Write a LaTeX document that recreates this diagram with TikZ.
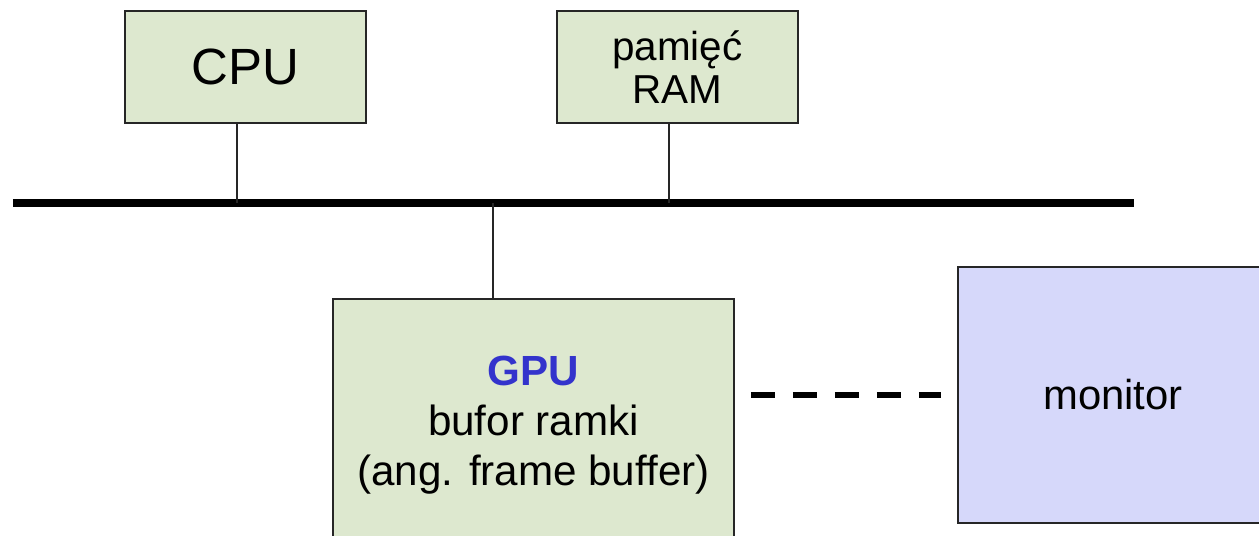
\documentclass[tikz,border=0pt]{standalone}
\usepackage{fontspec}
\setmainfont{Liberation Sans}
\usepackage{xcolor}
\usetikzlibrary{calc, positioning}

\definecolor{boxgreen}{RGB}{221,232,207}
\definecolor{boxblue}{RGB}{214,216,250}
\definecolor{gpublue}{RGB}{51,51,204}

\begin{document}
\begin{tikzpicture}[
		unit/.style = {draw = black!85, line width = 1.1pt, fill = boxgreen, align = center, inner sep = 0pt},
		screen/.style = {unit, fill = boxblue},
		tap/.style = {line width = 0.8pt, black!85},
		bus/.style = {line width = 4pt},
		video/.style = {line width = 3.4pt, dash pattern = on 0.48cm off 0.36cm}
	]
		\useasboundingbox (0,0) rectangle (25.18,-10.72);
		
		\def\busy{-4.06};
		
		\coordinate (bus left) at (0.26,\busy);
		\coordinate (bus right) at (22.68,\busy);
		
		\coordinate (cpu tap) at (4.74,\busy);
		\coordinate (ram tap) at (13.38,\busy);
		\coordinate (gpu tap) at (9.86,\busy);
		
		\node [unit, minimum width = 4.82cm, minimum height = 2.24cm, font = \fontsize{29}{35}\selectfont] (cpu) at (4.91,-1.34) {CPU};
		
		\node [unit, minimum width = 4.82cm, minimum height = 2.24cm, font = \fontsize{23}{25.5}\selectfont] (ram) at (13.55,-1.34) {\raisebox{-0.1cm}{pamięć}\\\raisebox{-0.06cm}{RAM}};
		
		\node [unit, minimum width = 8.02cm, minimum height = 5.04cm, font = \fontsize{24}{28.6}\selectfont] (gpu) at (10.67,-8.5) {\textcolor{gpublue}{\textbf{GPU}}\\bufor ramki\\(ang. frame buffer)};
		
		\node [screen, minimum width = 6.2cm, minimum height = 5.12cm, font = \fontsize{23.8}{28}\selectfont] (monitor) at (22.26,-7.9) {monitor};
		
		\draw [bus] (bus left) -- (bus right);
		
		\draw [tap] (cpu.south -| cpu tap) -- (cpu tap);
		\draw [tap] (ram.south -| ram tap) -- (ram tap);
		\draw [tap] (gpu tap) -- (gpu.north -| gpu tap);
		
		\draw [video] ($ (gpu.east |- monitor.west) + (0.32,0) $) -- ($ (monitor.west) + (-0.32,0) $);
	\end{tikzpicture}
\end{document}
